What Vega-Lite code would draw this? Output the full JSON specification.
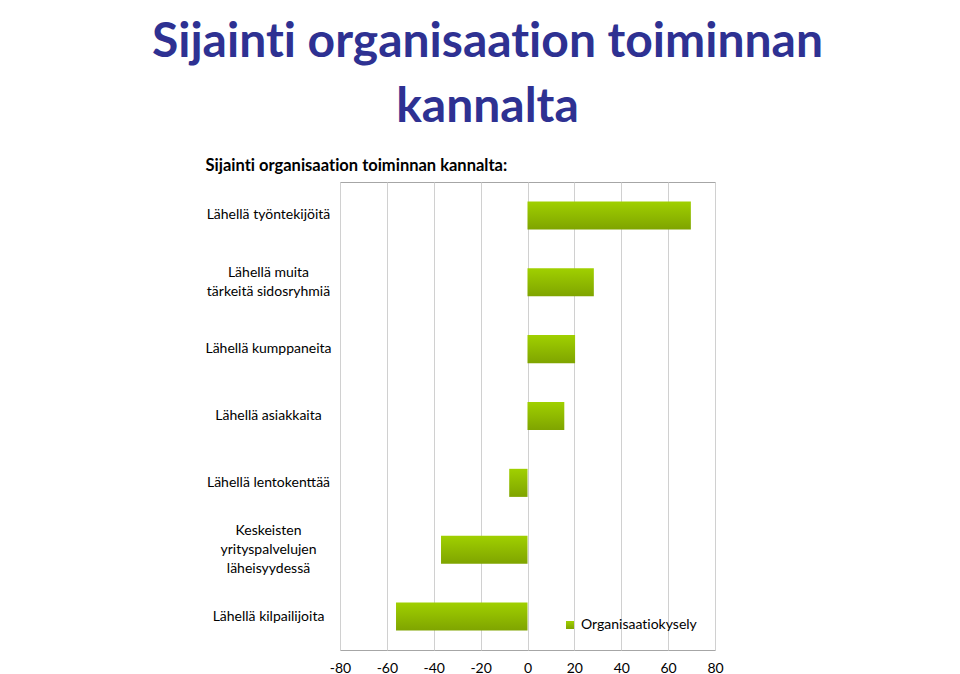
{
  "$schema": "https://vega.github.io/schema/vega-lite/v6.json",
  "autosize": {"type": "none"},
  "padding": {"left": 340, "top": 182, "right": 245, "bottom": 24},
  "width": 375,
  "height": 468,
  "background": "white",
  "title": {
    "text": ["Sijaint\u200ci organisaat\u200cion toiminnan", "kannalta"],
    "font": "Lato",
    "fontSize": 48,
    "fontWeight": "bold",
    "color": "#2e3192",
    "lineHeight": 65,
    "anchor": "middle",
    "frame": "group",
    "dx": -40,
    "offset": 25
  },
  "data": {
    "values": [
      {"kohde": "Lähellä työntekijöitä", "arvo": 69.7, "sarja": "Organisaatiokysely"},
      {"kohde": "Lähellä muita tärkeitä sidosryhmiä", "arvo": 28.3, "sarja": "Organisaatiokysely"},
      {"kohde": "Lähellä kumppaneita", "arvo": 20.3, "sarja": "Organisaatiokysely"},
      {"kohde": "Lähellä asiakkaita", "arvo": 15.7, "sarja": "Organisaatiokysely"},
      {"kohde": "Lähellä lentokenttää", "arvo": -7.8, "sarja": "Organisaatiokysely"},
      {"kohde": "Keskeisten yrityspalvelujen läheisyydessä", "arvo": -36.9, "sarja": "Organisaatiokysely"},
      {"kohde": "Lähellä kilpailijoita", "arvo": -56.1, "sarja": "Organisaatiokysely"}
    ]
  },
  "mark": {
    "type": "bar",
    "strokeWidth": 0,
    "fill": {"gradient": "linear", "x1": 0, "y1": 0, "x2": 0, "y2": 1, "stops": [{"offset": 0, "color": "#a0d000"}, {"offset": 1, "color": "#7fa400"}]}
  },
  "encoding": {
    "y": {
      "field": "kohde",
      "type": "nominal",
      "sort": null,
      "scale": {"paddingInner": 0.58, "paddingOuter": 0.29},
      "axis": {
        "title": "Sijaint\u200ci organisaat\u200cion toiminnan kannalta:",
        "titleAngle": 0,
        "titleAlign": "left",
        "titleBaseline": "middle",
        "titleX": -135,
        "titleY": -17,
        "titleFont": "Lato",
        "titleFontSize": 16.5,
        "titleFontWeight": "bold",
        "titleColor": "black",
        "domain": false,
        "ticks": false,
        "grid": false,
        "labelAlign": "center",
        "labelPadding": 72,
        "labelFont": "Lato",
        "labelFontSize": 14,
        "labelColor": "black",
        "labelLineHeight": 19,
        "labelLimit": 200,
        "labelOffset": {
          "condition": [
            {"test": "datum.value == 'Lähellä muita tärkeitä sidosryhmiä'", "value": -9.5},
            {"test": "datum.value == 'Keskeisten yrityspalvelujen läheisyydessä'", "value": -19}
          ],
          "value": 0
        },
        "labelExpr": "datum.label == 'Lähellä muita tärkeitä sidosryhmiä' ? ['Lähellä muita', 'tärkeitä sidosryhmiä'] : datum.label == 'Keskeisten yrityspalvelujen läheisyydessä' ? ['Keskeisten', 'yrityspalvelujen', 'läheisyydessä'] : datum.label"
      }
    },
    "x": {
      "field": "arvo",
      "type": "quantitative",
      "scale": {"domain": [-80, 80], "nice": false},
      "axis": {
        "title": null,
        "values": [-80, -60, -40, -20, 0, 20, 40, 60, 80],
        "domain": false,
        "ticks": false,
        "grid": true,
        "gridColor": "#d0d0d0",
        "gridWidth": 1,
        "labelFont": "Lato",
        "labelFontSize": 14,
        "labelColor": "black",
        "labelPadding": 11,
        "labelFlush": false,
        "labelExpr": "'' + datum.value"
      }
    },
    "stroke": {
      "field": "sarja",
      "type": "nominal",
      "scale": {"range": ["#8fbb00"]},
      "legend": {
        "title": null,
        "orient": "bottom-right",
        "offset": 18,
        "symbolType": "square",
        "symbolSize": 64,
        "symbolFillColor": "#8fbb00",
        "symbolStrokeWidth": 0,
        "labelFont": "Lato",
        "labelFontSize": 14,
        "labelColor": "black",
        "labelOffset": 4,
        "labelExpr": "replace(datum.label, 'ti', 't\u200ci')"
      }
    }
  },
  "config": {
    "view": {"stroke": "#a6a6a6", "strokeWidth": 1}
  }
}
